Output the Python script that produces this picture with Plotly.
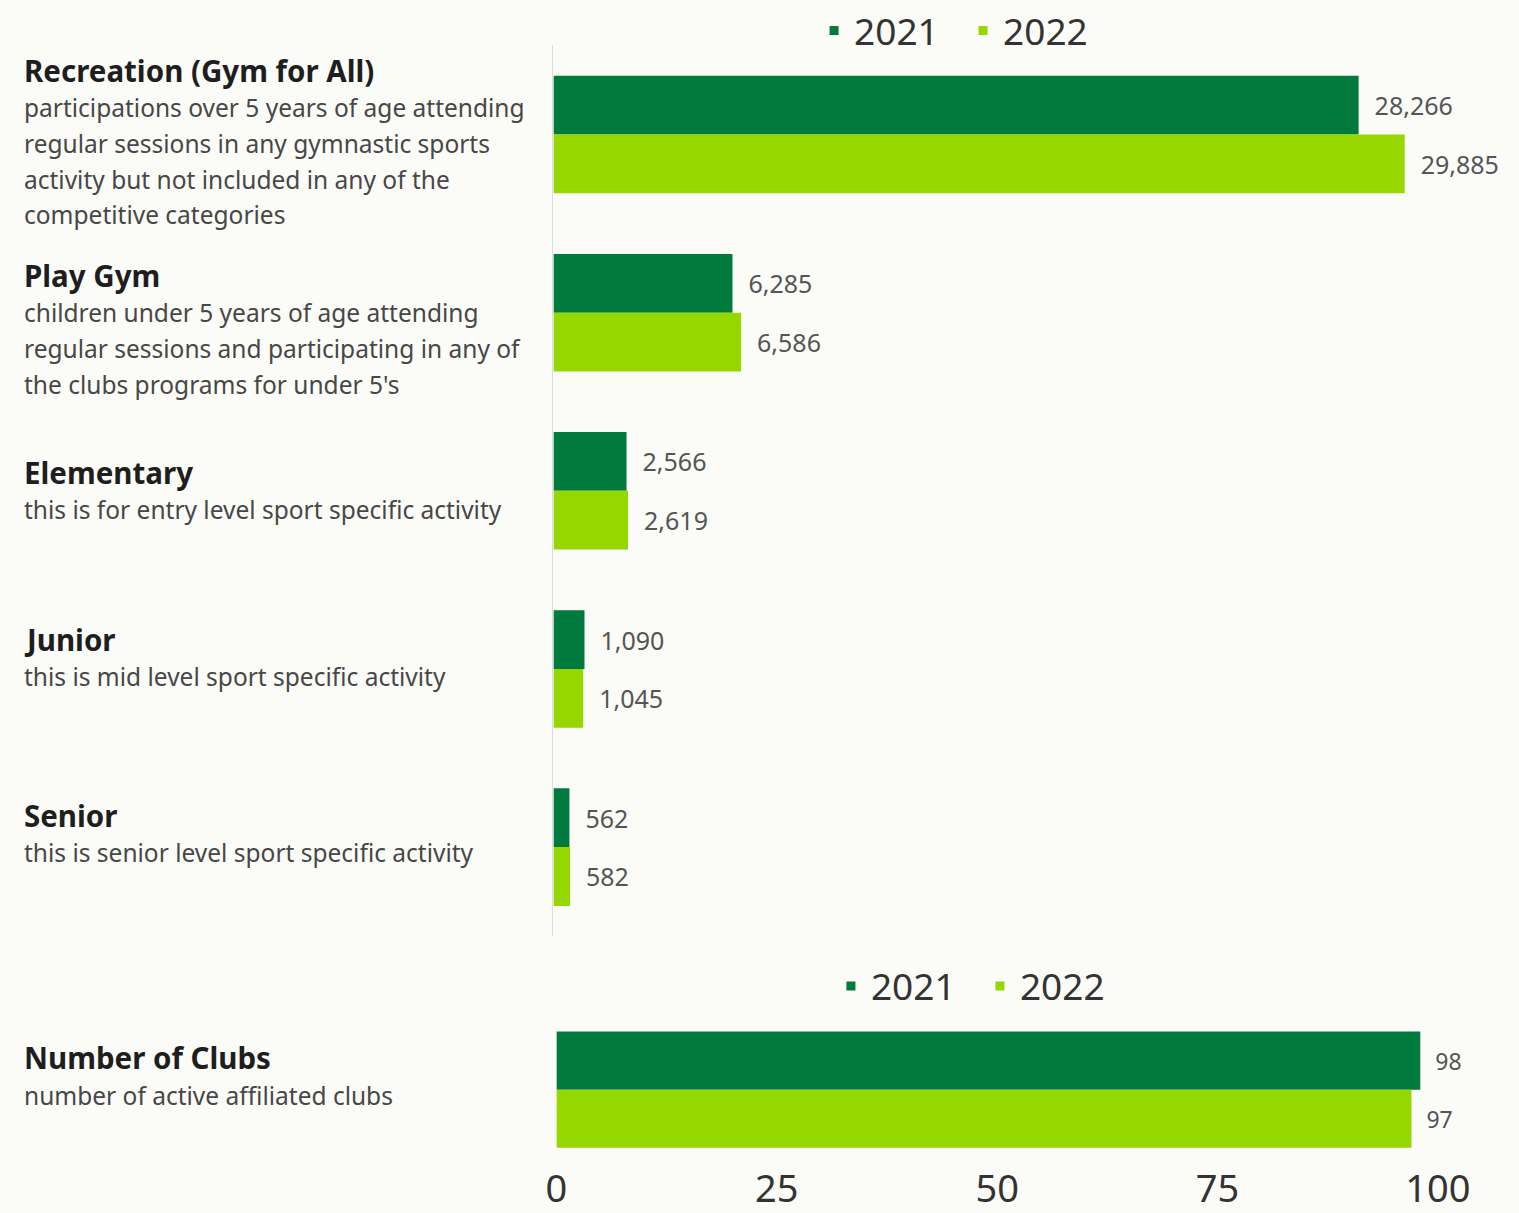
import plotly.graph_objects as go

W, H = 1519, 1213

# ---- data ----
categories = ["Recreation (Gym for All)", "Play Gym", "Elementary", "Junior", "Senior"]
descriptions = [
    ["participations over 5 years of age attending",
     "regular sessions in any gymnastic sports",
     "activity but not included in any of the",
     "competitive categories"],
    ["children under 5 years of age attending",
     "regular sessions and participating in any of",
     "the clubs programs for under 5's"],
    ["this is for entry level sport specific activity"],
    ["this is mid level sport specific activity"],
    ["this is senior level sport specific activity"],
]
members_2021 = [28266, 6285, 2566, 1090, 562]
members_2022 = [29885, 6586, 2619, 1045, 582]

club_category = ["Number of Clubs"]
club_description = ["number of active affiliated clubs"]
clubs_2021 = [98]
clubs_2022 = [97]
club_ticks = [0, 25, 50, 75, 100]

series_names = ["2021", "2022"]

# ---- style ----
DARK = "#007a3d"
LIGHT = "#97d700"
BG = "#fbfbf7"
FONT = "Noto Sans"


def py(px):
    return 1 - px / H


fig = go.Figure()

for name, vals, col in zip(series_names, [members_2021, members_2022], [DARK, LIGHT]):
    fig.add_trace(go.Bar(
        x=vals, y=categories, orientation="h", name=name, showlegend=False,
        marker=dict(color=col, line=dict(width=0)),
        texttemplate="\u00a0\u00a0%{x:,}", textposition="outside",
        textfont=dict(family=FONT, size=25, color="#555555"),
        cliponaxis=False, xaxis="x", yaxis="y",
    ))

for name, vals, col in zip(series_names, [clubs_2021, clubs_2022], [DARK, LIGHT]):
    fig.add_trace(go.Bar(
        x=vals, y=club_category, orientation="h", name=name, showlegend=False,
        marker=dict(color=col, line=dict(width=0)),
        texttemplate="\u00a0\u00a0%{x}", textposition="outside",
        textfont=dict(family=FONT, size=23, color="#555555"),
        cliponaxis=False, xaxis="x2", yaxis="y2",
    ))

# legend entries (small square swatches)
for lg, ax, ay in [("legend", "x", "y"), ("legend2", "x2", "y2")]:
    for name, col in zip(series_names, [DARK, LIGHT]):
        fig.add_trace(go.Scatter(
            x=[None], y=[None], mode="markers", name=name,
            marker=dict(symbol="square", size=9, color=col),
            xaxis=ax, yaxis=ay, legend=lg, showlegend=True,
        ))

# ---- left-hand labels ----
annotations = []
LX = 11 / W
title_px = [70.5, 277.4, 476.2, 644.8, 822.5]
for title, desc, ty in zip(categories, descriptions, title_px):
    annotations.append(dict(
        text="<b>" + title + "</b>", x=LX, y=py(ty), xref="paper", yref="paper",
        xanchor="left", yanchor="middle", showarrow=False,
        font=dict(family=FONT, size=29.5, color="#1e1e1e")))
    for i, line in enumerate(desc):
        annotations.append(dict(
            text=line, x=LX, y=py(ty + 37.15 + 36.15 * i), xref="paper", yref="paper",
            xanchor="left", yanchor="middle", showarrow=False,
            font=dict(family=FONT, size=24.5, color="#474747")))

annotations.append(dict(
    text="<b>" + club_category[0] + "</b>", x=LX, y=py(1067.5), xref="paper", yref="paper",
    xanchor="left", yanchor="middle", showarrow=False,
    font=dict(family=FONT, size=29.5, color="#1e1e1e")))
annotations.append(dict(
    text=club_description[0], x=LX, y=py(1105.7), xref="paper", yref="paper",
    xanchor="left", yanchor="middle", showarrow=False,
    font=dict(family=FONT, size=24.5, color="#474747")))

fig.update_layout(
    width=W, height=H,
    margin=dict(l=0, r=0, t=0, b=0),
    paper_bgcolor=BG, plot_bgcolor=BG,
    barmode="group", bargap=0.34, bargroupgap=0,
    xaxis=dict(domain=[546.4 / W, 1], range=[0, 33897], visible=False),
    yaxis=dict(domain=[py(944.5), py(44.9)], range=[4.5, -0.5],
               showticklabels=False, ticks="", showgrid=False, zeroline=False,
               showline=True, linecolor="#dcdcdc", linewidth=1),
    xaxis2=dict(domain=[549.4 / W, 1], range=[0, 109.2], anchor="y2",
                tickvals=club_ticks, ticks="", showgrid=False, zeroline=False,
                showline=False, tickfont=dict(family=FONT, size=38, color="#333333")),
    yaxis2=dict(domain=[py(1173.5), py(1002.5)], range=[0.416, -0.546], anchor="x2",
                showticklabels=False, ticks="", showgrid=False, zeroline=False,
                showline=False),
    legend=dict(orientation="h", x=959 / W, y=py(30.3), xanchor="center", yanchor="middle",
                bgcolor="rgba(0,0,0,0)", font=dict(family=FONT, size=37, color="#333333"),
                itemwidth=30, traceorder="normal", entrywidth=104),
    legend2=dict(orientation="h", x=976 / W, y=py(995.2), xanchor="center", yanchor="middle",
                 bgcolor="rgba(0,0,0,0)", font=dict(family=FONT, size=37, color="#333333"),
                 itemwidth=30, traceorder="normal", entrywidth=104),
    annotations=annotations,
    showlegend=True,
)

page_fix = (
    "var s=document.createElement('style');"
    "s.textContent='html,body{margin:0;padding:0;overflow:hidden;"
    "width:1519px;height:1213px;}';"
    "document.head.appendChild(s);"
)

fig.write_html("out.html", config={"displayModeBar": False}, post_script=page_fix)
